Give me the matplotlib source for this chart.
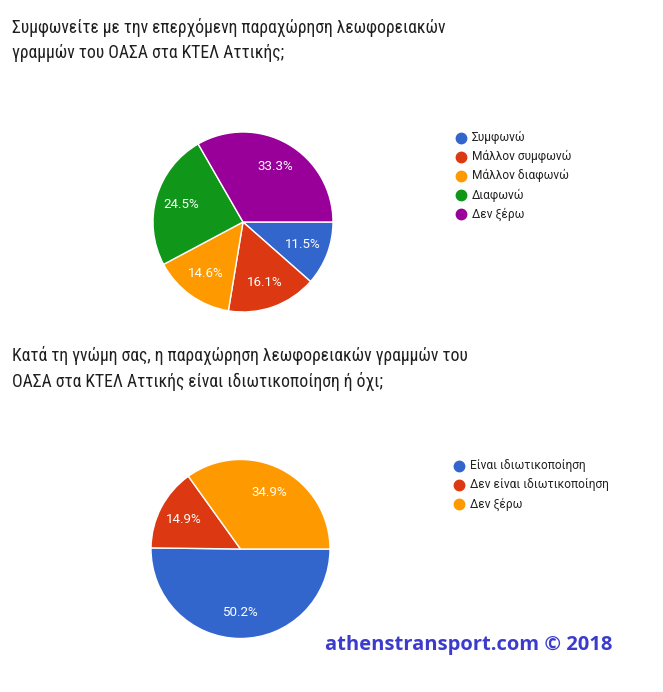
import numpy as np
import matplotlib
matplotlib.use('Agg')
import matplotlib.pyplot as plt
from matplotlib.lines import Line2D

plt.rcParams['font.family'] = ['Roboto', 'DejaVu Sans']

# Δεδομένα

title1 = 'Συμφωνείτε με την επερχόμενη παραχώρηση λεωφορειακών\nγραμμών του ΟΑΣΑ στα ΚΤΕΛ Αττικής;'
labels1 = ['Συμφωνώ', 'Μάλλον συμφωνώ', 'Μάλλον διαφωνώ', 'Διαφωνώ', 'Δεν ξέρω']
values1 = [11.5, 16.1, 14.6, 24.5, 33.3]
colors1 = ['#3366cc', '#dc3912', '#ff9900', '#109618', '#990099']

title2 = 'Κατά τη γνώμη σας, η παραχώρηση λεωφορειακών γραμμών του\nΟΑΣΑ στα ΚΤΕΛ Αττικής είναι ιδιωτικοποίηση ή όχι;'
labels2 = ['Είναι ιδιωτικοποίηση', 'Δεν είναι ιδιωτικοποίηση', 'Δεν ξέρω']
values2 = [50.2, 14.9, 34.9]
colors2 = ['#3366cc', '#dc3912', '#ff9900']

W, H = 663, 692
fig = plt.figure(figsize=(W/100, H/100), dpi=100)

def fx(px):
    return px / W

def fy(py):
    return 1 - py / H

def pie_block(cx, cy, r, values, colors, labels, title, ty, lx, ly):
    ax = fig.add_axes([fx(cx - r), fy(cy + r), 2*r/W, 2*r/H])
    ax.pie(values, colors=colors, startangle=0, counterclock=False,
           autopct='%.1f%%', pctdistance=0.71,
           wedgeprops=dict(edgecolor='white', linewidth=1),
           textprops=dict(color='white', fontsize=9.6))
    ax.set_xlim(-1, 1)
    ax.set_ylim(-1, 1)
    ax.set_aspect('equal')
    ax.axis('off')

    fig.text(fx(12), fy(ty), title, fontsize=12.7, color='#202020',
             family=['Roboto Condensed', 'Roboto'],
             va='baseline', ha='left', linespacing=1.48)

    for i, lab in enumerate(labels):
        y = ly + i * 19.2
        fig.add_artist(Line2D([fx(lx)], [fy(y)], marker='o', markersize=7.5,
                              color=colors[i], transform=fig.transFigure))
        fig.text(fx(lx + 11), fy(y), lab, fontsize=8.6, color='#222222',
                 va='center', ha='left')

pie_block(243, 222, 90, values1, colors1, labels1, title1, 58, 461, 137.5)
pie_block(240.5, 549, 89.5, values2, colors2, labels2, title2, 387, 458.5, 465.5)

fig.text(fx(325), fy(650), 'athenstransport.com © 2018', fontsize=14.5,
         fontweight='bold', color='#3c3ccc', family=['Open Sans', 'DejaVu Sans'],
         va='baseline', ha='left')

plt.savefig('out.png', dpi=100)
plt.close()
